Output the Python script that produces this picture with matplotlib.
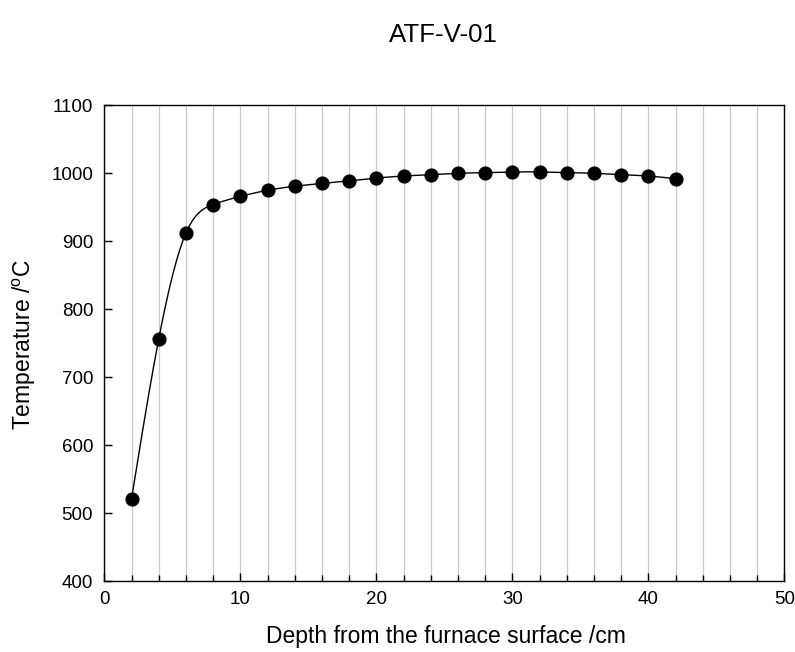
import numpy as np
import matplotlib
matplotlib.use("Agg")
import matplotlib.pyplot as plt
from matplotlib.ticker import MultipleLocator

plt.rcParams['font.family'] = ['Liberation Sans', 'DejaVu Sans']
plt.rcParams['mathtext.default'] = 'regular'

# Measured temperature profile
depth_cm = [2, 4, 6, 8, 10, 12, 14, 16, 18, 20, 22, 24, 26, 28, 30, 32, 34, 36, 38, 40, 42]
temperature_c = [521, 756, 912, 954, 966, 975, 981, 985, 989, 993, 996, 998,
                 1000, 1001, 1002, 1002, 1001, 1000, 998, 996, 992]

title = "ATF-V-01"
xlabel = "Depth from the furnace surface /cm"
ylabel = r"Temperature /$^{o}$C"


def natural_cubic_spline(x, y, xs):
    """Evaluate a natural cubic spline through (x, y) at xs."""
    x = np.asarray(x, float)
    y = np.asarray(y, float)
    n = len(x)
    h = np.diff(x)
    A = np.zeros((n, n))
    r = np.zeros(n)
    A[0, 0] = 1.0
    A[-1, -1] = 1.0
    for i in range(1, n - 1):
        A[i, i - 1] = h[i - 1]
        A[i, i] = 2 * (h[i - 1] + h[i])
        A[i, i + 1] = h[i]
        r[i] = 6 * ((y[i + 1] - y[i]) / h[i] - (y[i] - y[i - 1]) / h[i - 1])
    M = np.linalg.solve(A, r)
    idx = np.clip(np.searchsorted(x, xs) - 1, 0, n - 2)
    x0, x1 = x[idx], x[idx + 1]
    y0, y1 = y[idx], y[idx + 1]
    m0, m1 = M[idx], M[idx + 1]
    hh = x1 - x0
    t0 = x1 - xs
    t1 = xs - x0
    return (m0 * t0 ** 3 / (6 * hh) + m1 * t1 ** 3 / (6 * hh)
            + (y0 / hh - m0 * hh / 6) * t0 + (y1 / hh - m1 * hh / 6) * t1)


fig = plt.figure(figsize=(7.95, 6.52), dpi=100)
ax = fig.add_axes([104.3 / 795, 1 - 581.3 / 652, 680 / 795, 476 / 652])

xs = np.linspace(depth_cm[0], depth_cm[-1], 600)
ax.plot(xs, natural_cubic_spline(depth_cm, temperature_c, xs), color='black',
        lw=1.0, zorder=3)
ax.plot(depth_cm, temperature_c, 'o', color='black', ms=9.2, zorder=4)

ax.set_xlim(0, 50)
ax.set_ylim(400, 1100)
ax.xaxis.set_major_locator(MultipleLocator(10))
ax.xaxis.set_minor_locator(MultipleLocator(2))
ax.yaxis.set_major_locator(MultipleLocator(100))

ax.grid(True, which='both', axis='x', color='#c8c8c8', lw=0.9, zorder=0)
ax.set_axisbelow(True)

for s in ax.spines.values():
    s.set_linewidth(1.0)
    s.set_color('black')

ax.tick_params(axis='both', which='major', direction='in', length=6, width=1.0,
               labelsize=13.5, top=False, right=False)
ax.tick_params(axis='x', which='major', pad=7)
ax.tick_params(axis='y', which='major', pad=8)
ax.tick_params(axis='x', which='minor', direction='in', length=4, width=1.0,
               top=False)

fig.text(443 / 795, 1 - 41.7 / 652, title, ha='center', va='baseline', fontsize=18.6)
fig.text(446 / 795, 1 - 643.3 / 652, xlabel, ha='center', va='baseline', fontsize=16.5)
fig.text(24 / 795, 1 - 344.5 / 652, ylabel, ha='center', va='center',
         rotation=90, fontsize=16.5)

fig.savefig("out.png", dpi=100)
